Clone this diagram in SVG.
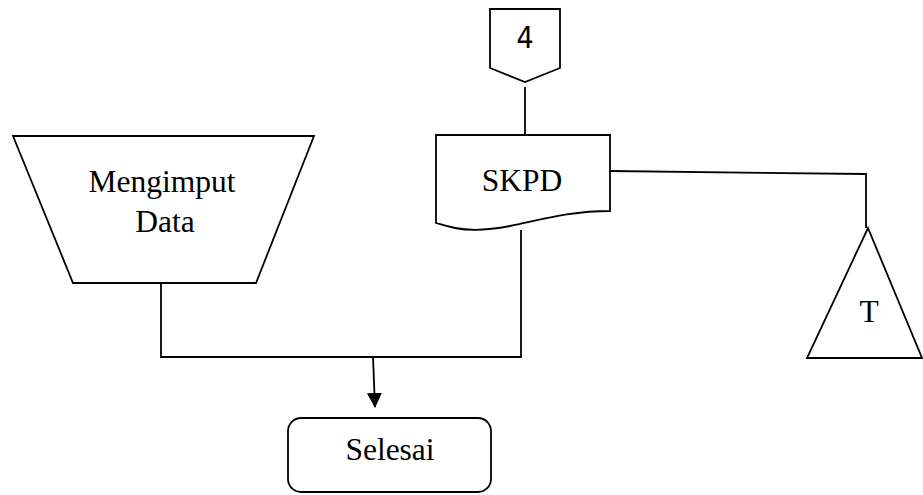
<svg xmlns="http://www.w3.org/2000/svg" width="923" height="495" viewBox="0 0 923 495">
<defs>
<style>
.s{fill:#fff;stroke:#000;stroke-width:1.8;stroke-linejoin:miter}
.c{fill:none;stroke:#000;stroke-width:1.8}
.t{font-family:"Liberation Serif","Times New Roman",serif;font-size:31.5px;fill:#000;text-anchor:middle}
.n{font-family:"Liberation Sans Narrow","DejaVu Sans Condensed","Liberation Sans",sans-serif;font-stretch:condensed;font-size:30px;fill:#000;text-anchor:middle}
</style>
<marker id="ah" markerWidth="16" markerHeight="16" refX="14" refY="7.5" orient="auto" markerUnits="userSpaceOnUse">
<path d="M0,0 L15,7.5 L0,15 Z" fill="#000"/>
</marker>
</defs>
<g id="connectors">
<line class="c" x1="525" y1="87" x2="525" y2="135"/>
<polyline class="c" points="610,171 866,174 866,228"/>
<polyline class="c" points="161,283 161,357 521,357 521,230"/>
<line class="c" x1="373" y1="357" x2="375" y2="407" marker-end="url(#ah)"/>
</g>
<g id="offpage4">
<path class="s" d="M490,9 L560,9 L560,68 L525,82 L490,68 Z"/>
<text class="n" x="525" y="48">4</text>
</g>
<g id="skpd">
<path class="s" d="M436,135 L610,135 L610,211 C570,211 540,220 510,226 C490,230 470,231 455,228 C445,226 440,224 436,223 Z"/>
<text class="t" x="522" y="191">SKPD</text>
</g>
<g id="mengimput">
<path class="s" d="M13,136 L314,136 L256,283 L73,283 Z"/>
<text class="t" x="162" y="192">Mengimput</text>
<text class="t" x="165" y="232">Data</text>
</g>
<g id="tri">
<path class="s" d="M868,228 L922,358 L807,358 Z"/>
<text class="t" x="869" y="322">T</text>
</g>
<g id="selesai">
<rect class="s" x="288" y="418" width="203" height="74" rx="13" ry="13"/>
<text class="t" x="390" y="460">Selesai</text>
</g>
</svg>
